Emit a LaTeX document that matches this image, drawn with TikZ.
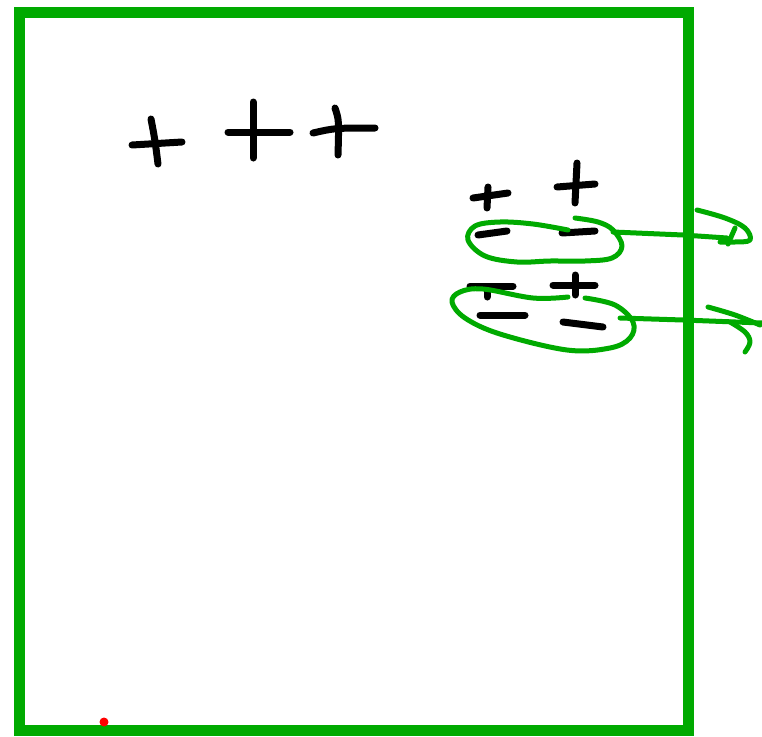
\documentclass[tikz,border=0pt]{standalone}
\definecolor{sketchgreen}{RGB}{0,170,0}
\tikzset{
  ink/.style={draw=black, line width=7pt, line cap=round, line join=round},
  gink/.style={draw=sketchgreen, line width=5pt, line cap=round, line join=round},
  frame/.style={draw=sketchgreen, line width=11pt}
}
\begin{document}
\begin{tikzpicture}[x=1pt,y=-1pt]
\useasboundingbox (0,0) rectangle (762,736);
% frame
\draw[frame] (19,12) rectangle (688,730);
% pluses top left
\draw[ink] (132,145) -- (182,142);
\draw[ink] (151,119) .. controls (155,140) .. (158,164);
\draw[ink] (228,132) -- (290,132);
\draw[ink] (253,102) -- (253,158);
\draw[ink] (313,133) .. controls (335,128) .. (375,128);
\draw[ink] (335,108) .. controls (339,120) .. (338,155);
% right charges, row 1
\draw[ink] (473,198) -- (508,193);
\draw[ink] (488,187) -- (487,208);
\draw[ink] (557,187) -- (595,184);
\draw[ink] (577,163) -- (575,203);
\draw[ink] (478,235) -- (507,231);
\draw[ink] (562,233) -- (595,231);
% right charges, row 2
\draw[ink] (470,286) -- (513,286);
\draw[ink] (487,290) -- (487,297);
\draw[ink] (480,315) -- (525,315);
\draw[ink] (553,285) -- (595,285);
\draw[ink] (575,275) -- (575,295);
\draw[ink] (563,322) -- (603,327);
% ellipse 1
\draw[gink] plot[smooth, tension=0.6] coordinates {(575,218) (598,222) (613,230) (622,246) (612,258) (585,261) (550,261) (517,262) (485,256) (468,240) (475,226) (500,222) (533,224) (568,230)};
\draw[gink] (613,232) -- (683,235) -- (727,238);
\draw[gink] plot[smooth, tension=0.6] coordinates {(697,210) (725,218) (745,228) (750,240) (735,242) (720,242)};
\draw[gink] (735,228) -- (728,244);
% ellipse 2
\draw[gink] plot[smooth, tension=0.6] coordinates {(568,297) (533,298) (483,289) (460,292) (452,302) (465,318) (500,334) (567,350) (610,348) (630,338) (633,322) (615,305) (585,298)};
\draw[gink] (620,318) -- (683,320) -- (762,323);
\draw[gink] plot[smooth, tension=0.6] coordinates {(708,307) (735,315) (760,325)};
\draw[gink] plot[smooth, tension=0.6] coordinates {(730,322) (745,332) (750,342) (745,352)};
% red dot
\fill[red] (104,722) circle (4.5);
\end{tikzpicture}
\end{document}
